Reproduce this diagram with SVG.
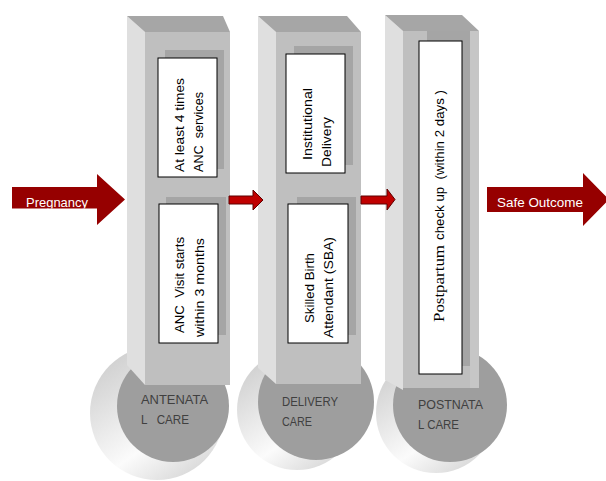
<svg xmlns="http://www.w3.org/2000/svg" width="606" height="481" viewBox="0 0 606 481">
<style>
.lf{fill:#dfdfdf}
.tp{fill:#a6a6a6}
.fr{fill:#bfbfbf}
.sh{fill:#a5a5a5}
.wb{fill:#ffffff;stroke:#000000;stroke-width:1}
.face{fill:#9e9e9e}
.rim{fill:url(#rimg)}
.rt{font-family:"Liberation Sans",Arial,sans-serif;font-size:13.2px;fill:#000000}
.st{font-family:"Liberation Serif","Times New Roman",serif;font-size:14px;fill:#000000}
.dl{font-family:"Liberation Sans",Arial,sans-serif;font-size:12.8px;fill:#404040}
.at{font-family:"Liberation Sans",Arial,sans-serif;font-size:13px;fill:#ffffff}
.big{fill:#960000}
.small{fill:#c00000;stroke:#5e0000;stroke-width:1}
</style>
<defs>
<linearGradient id="rimg" x1="0" y1="0" x2="0.7" y2="1">
<stop offset="0" stop-color="#c6c6c6"/>
<stop offset="0.4" stop-color="#e4e4e4"/>
<stop offset="0.7" stop-color="#fbfbfb"/>
<stop offset="1" stop-color="#dadada"/>
</linearGradient>
<clipPath id="clipPreg"><path d="M12,187 H97 V174 L125,199.5 L97,225 V208.5 H12 Z"/></clipPath>
</defs>

<g id="pregnancy">
<path class="big" d="M12,187 H97 V174 L125,199.5 L97,225 V208.5 H12 Z"/>
<text class="at" x="26" y="206.5" textLength="62" lengthAdjust="spacingAndGlyphs" clip-path="url(#clipPreg)">Pregnancy</text>
</g>

<g id="antenatal-care">
<circle class="rim" cx="157" cy="413" r="67"/>
<circle class="face" cx="173" cy="406" r="56"/>
<polygon class="lf" points="127,16 145,32 145,385 127,365"/>
<polygon class="tp" points="127,16 223,16 230,32 145,32"/>
<rect class="fr" x="145" y="32" width="85" height="353"/>
<rect class="sh" x="165" y="50" width="59" height="119"/>
<rect class="wb" x="158" y="58" width="59" height="119"/>
<rect class="sh" x="166" y="197" width="60" height="138"/>
<rect class="wb" x="159" y="204" width="59" height="139"/>
<text class="rt" transform="translate(183.5,172) rotate(-90)" textLength="94" lengthAdjust="spacingAndGlyphs">At least 4 times</text>
<text class="rt" transform="translate(203,172) rotate(-90)" xml:space="preserve" textLength="80" lengthAdjust="spacingAndGlyphs">ANC  services</text>
<text class="rt" transform="translate(184,333) rotate(-90)" xml:space="preserve" textLength="96" lengthAdjust="spacingAndGlyphs">ANC  Visit starts</text>
<text class="rt" transform="translate(204,337) rotate(-90)" textLength="99" lengthAdjust="spacingAndGlyphs">within 3 months</text>
<text class="dl" x="141" y="404" textLength="67" lengthAdjust="spacingAndGlyphs">ANTENATA</text>
<text class="dl" x="141" y="424" xml:space="preserve" textLength="48" lengthAdjust="spacingAndGlyphs">L   CARE</text>
</g>

<g id="delivery-care">
<circle class="rim" cx="297" cy="410" r="60"/>
<circle class="face" cx="316" cy="402" r="58"/>
<polygon class="lf" points="258,16 276,32 276,384 258,368"/>
<polygon class="tp" points="258,16 347,16 361,32 276,32"/>
<rect class="fr" x="276" y="32" width="85" height="352"/>
<rect class="sh" x="294" y="46" width="59" height="119"/>
<rect class="wb" x="286" y="54" width="59" height="119"/>
<rect class="sh" x="297" y="197" width="59" height="138"/>
<rect class="wb" x="288" y="204" width="60" height="139"/>
<text class="rt" transform="translate(312,160) rotate(-90)" textLength="72" lengthAdjust="spacingAndGlyphs">Institutional</text>
<text class="rt" transform="translate(330.5,167) rotate(-90)" textLength="50" lengthAdjust="spacingAndGlyphs">Delivery</text>
<text class="rt" transform="translate(314,323) rotate(-90)" textLength="70" lengthAdjust="spacingAndGlyphs">Skilled Birth</text>
<text class="rt" transform="translate(333,338) rotate(-90)" textLength="101" lengthAdjust="spacingAndGlyphs">Attendant (SBA)</text>
<text class="dl" x="282" y="406" textLength="56" lengthAdjust="spacingAndGlyphs">DELIVERY</text>
<text class="dl" x="282" y="426" textLength="30" lengthAdjust="spacingAndGlyphs">CARE</text>
</g>

<g id="postnatal-care">
<circle class="rim" cx="436" cy="413" r="60"/>
<circle class="face" cx="450" cy="405" r="57"/>
<polygon class="lf" points="385,15 403,31 403,390 385,380"/>
<polygon class="tp" points="385,15 462,15 479,31 403,31"/>
<rect class="fr" x="403" y="31" width="76" height="357"/>
<rect x="470" y="31" width="9" height="357" fill="#c6c6c6"/>
<rect class="sh" x="427" y="31" width="43" height="335"/>
<rect class="wb" x="419" y="41" width="43" height="333"/>
<text class="st" transform="translate(443.5,322) rotate(-90)" textLength="77" lengthAdjust="spacingAndGlyphs">Postpartum</text>
<text class="rt" transform="translate(443.5,240) rotate(-90)" xml:space="preserve" textLength="150" lengthAdjust="spacingAndGlyphs">check up  (within 2 days )</text>
<text class="dl" x="418" y="409" textLength="65" lengthAdjust="spacingAndGlyphs">POSTNATA</text>
<text class="dl" x="418" y="429" textLength="41" lengthAdjust="spacingAndGlyphs">L CARE</text>
</g>

<g id="safe-outcome">
<path class="big" d="M487,187 H583 V173 L609,199.5 L583,226 V212 H487 Z"/>
<text class="at" x="497" y="207" textLength="86" lengthAdjust="spacingAndGlyphs">Safe Outcome</text>
</g>

<g id="connectors">
<path class="small" d="M229,196 H253 V190 L263,200 L253,210 V204 H229 Z"/>
<path class="small" d="M361,196 H387 V189 L395,199.5 L387,210 V204 H361 Z"/>
</g>
</svg>
